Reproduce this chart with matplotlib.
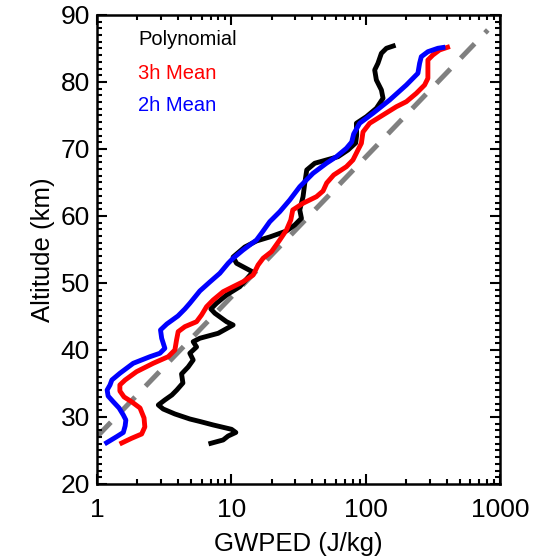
import matplotlib
matplotlib.use("Agg")
import matplotlib.pyplot as plt
from matplotlib.ticker import FixedLocator, LogLocator, NullFormatter, FixedFormatter
import numpy as np

plt.rcParams['font.family'] = ['Liberation Sans', 'DejaVu Sans']

# GWPED profiles (J/kg) against altitude (km)
poly_gwped = [7.04, 8.69, 9.47, 10.80, 10.03, 7.32, 5.83, 4.91, 3.80, 3.11,
              2.86, 3.20, 3.61, 3.93, 4.36, 4.26, 4.77, 5.20, 4.91, 5.51,
              5.20, 5.83, 7.98, 10.31, 9.21, 7.54, 7.04, 7.76, 9.21, 11.57,
              14.45, 10.93, 10.31, 12.60, 15.40, 19.33, 25.73, 29.66, 33.25, 32.31,
              34.18, 35.20, 36.42, 41.77, 51.04, 62.25, 73.86, 84.27, 85.72, 85.29,
              101.2, 120.1, 134.7, 130.9, 120.1, 116.7, 123.4, 130.9, 142.7, 160.4]
poly_alt = [26.07, 26.57, 27.16, 27.69, 28.16, 28.81, 29.33, 29.70, 30.45, 31.19,
            31.79, 32.54, 33.28, 34.03, 35.07, 36.42, 37.46, 38.51, 39.51, 40.45,
            41.24, 41.75, 42.49, 43.73, 44.22, 45.48, 46.12, 46.97, 48.21, 49.45,
            51.64, 52.94, 53.88, 55.37, 56.27, 56.87, 57.76, 58.66, 59.66, 60.90,
            62.88, 64.88, 66.87, 67.87, 68.36, 68.85, 69.85, 70.90, 72.09, 73.84,
            74.82, 76.07, 77.57, 78.81, 80.30, 81.79, 82.79, 84.28, 85.03, 85.37]

mean3h_gwped = [1.53, 1.81, 2.15, 2.27, 2.24, 2.09, 1.82, 1.59, 1.48, 1.48,
                1.62, 1.97, 2.62, 3.39, 3.80, 3.91, 4.02, 4.51, 5.51, 6.00,
                6.54, 7.32, 8.69, 10.31, 12.24, 14.53, 15.82, 17.24, 19.90, 22.94,
                25.73, 27.70, 28.66, 34.18, 43.01, 48.15, 51.29, 57.83, 71.87, 80.4,
                87.6, 92.9, 95.5, 107.1, 134.5, 169.2, 200.8, 238.2, 274.6, 290.5,
                290.5, 290.5, 316.5, 354.9, 407.1]
mean3h_alt = [26.12, 26.82, 27.46, 28.51, 29.85, 31.34, 32.24, 32.99, 33.88, 34.78,
              35.52, 36.76, 38.01, 39.00, 40.00, 41.49, 42.73, 43.48, 44.22, 45.22,
              46.46, 47.46, 48.70, 49.45, 50.19, 51.19, 52.69, 53.69, 54.67, 56.42,
              57.91, 59.40, 60.90, 61.90, 62.88, 63.73, 64.93, 66.12, 67.36, 68.36,
              69.85, 70.85, 72.54, 73.84, 75.07, 76.31, 77.06, 78.31, 79.55, 80.55,
              82.04, 83.28, 84.03, 84.78, 85.18]

mean2h_gwped = [1.18, 1.40, 1.57, 1.62, 1.64, 1.57, 1.46, 1.32, 1.21, 1.19,
                1.25, 1.29, 1.48, 1.86, 2.48, 2.94, 3.20, 3.03, 2.97, 3.31,
                4.00, 4.51, 4.91, 5.83, 6.92, 8.21, 9.47, 10.31, 12.24, 15.40,
                16.77, 19.33, 22.94, 27.22, 32.31, 40.57, 51.04, 60.55, 71.87, 78.7,
                81.4, 90.2, 113.3, 150.8, 200.8, 244.8, 252.0, 259.5, 290.5, 344.7,
                376.3]
mean2h_alt = [26.16, 27.06, 27.69, 28.66, 29.55, 30.30, 31.34, 32.28, 33.13, 34.03,
              34.78, 35.52, 36.52, 38.01, 39.00, 39.51, 40.25, 41.75, 42.99, 43.88,
              45.07, 46.12, 46.97, 48.81, 50.15, 51.45, 52.94, 53.69, 54.93, 56.42,
              57.42, 59.15, 60.64, 62.39, 64.37, 66.37, 67.87, 68.85, 70.10, 71.04,
              72.24, 73.84, 75.33, 77.31, 79.55, 81.30, 82.79, 83.78, 84.52, 85.03,
              85.15]

# reference growth line
ref_gwped = [1.0, 811.0]
ref_alt = [27.06, 87.76]

x_ticks = [1, 10, 100, 1000]
x_ticklabels = ["1", "10", "100", "1000"]
y_ticks = [20, 30, 40, 50, 60, 70, 80, 90]

fig = plt.figure(figsize=(5.35, 5.57), dpi=100)
ax = fig.add_axes([0.1813, 0.1311, 0.7533, 0.842])

ax.plot(ref_gwped, ref_alt, color='#808080', lw=3.6, dashes=(4.0, 3.0), zorder=1)
ax.plot(poly_gwped, poly_alt, color='black', lw=3.5, zorder=2)
ax.plot(mean3h_gwped, mean3h_alt, color='#ff0000', lw=3.5, zorder=3)
ax.plot(mean2h_gwped, mean2h_alt, color='#0000ff', lw=3.5, zorder=4)

ax.set_xscale('log')
ax.set_xlim(1, 1000)
ax.set_ylim(20, 90)

ax.xaxis.set_major_locator(FixedLocator(x_ticks))
ax.xaxis.set_major_formatter(FixedFormatter(x_ticklabels))
ax.xaxis.set_minor_locator(LogLocator(base=10, subs=np.arange(2, 10)))
ax.xaxis.set_minor_formatter(NullFormatter())
ax.yaxis.set_major_locator(FixedLocator(y_ticks))
ax.yaxis.set_minor_locator(FixedLocator(np.arange(20, 91, 1)))

ax.tick_params(which='both', direction='in', top=True, right=True, width=1.5,
               labelsize=19, colors='black')
ax.tick_params(which='major', length=7.5)
ax.tick_params(which='minor', length=3.6)
ax.tick_params(axis='x', which='major', pad=10)
ax.tick_params(axis='y', which='major', pad=5)
for s in ax.spines.values():
    s.set_linewidth(1.8)

ax.set_xlabel('GWPED (J/kg)', fontsize=18.5, labelpad=7)
ax.set_ylabel('Altitude (km)', fontsize=18.5, labelpad=4)

ax.text(0.102, 0.947, 'Polynomial', color='black', fontsize=14.5,
        transform=ax.transAxes, va='center')
ax.text(0.102, 0.876, '3h Mean', color='#ff0000', fontsize=14.5,
        transform=ax.transAxes, va='center')
ax.text(0.102, 0.808, '2h Mean', color='#0000ff', fontsize=14.5,
        transform=ax.transAxes, va='center')

plt.savefig("out.png", dpi=100)
